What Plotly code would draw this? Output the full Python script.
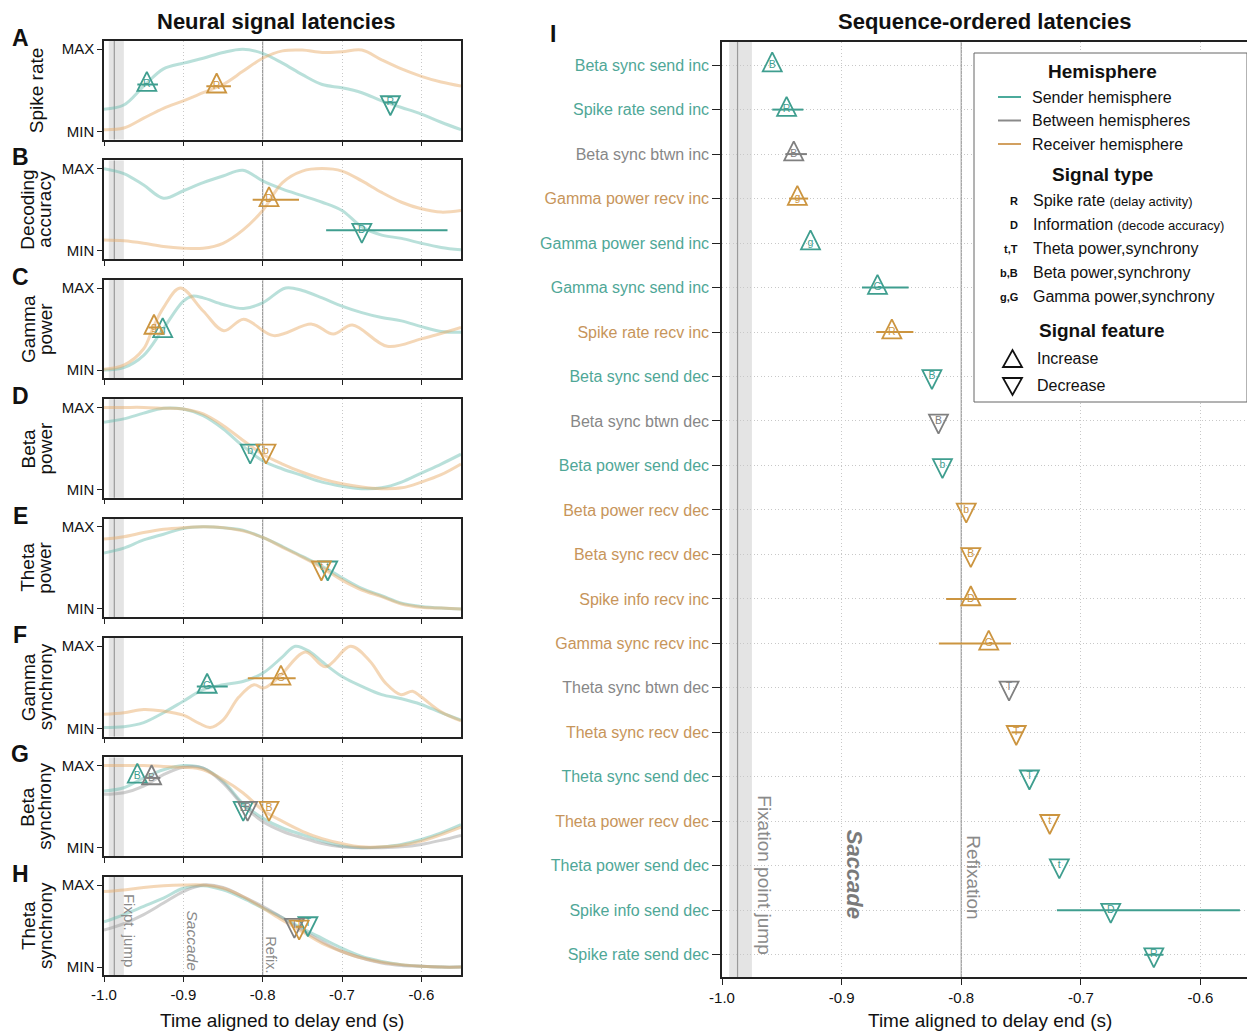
import plotly.graph_objects as go

# page area is 1255x1031; the html body adds an 8px margin, so the figure is offset by 8px
W, H = 1255, 1031
OFF = 8
FW, FH = W - OFF, H - OFF
FONT = "Liberation Sans, Arial, Helvetica, sans-serif"

# ---------------- data: left panels (normalised signals, MIN=0, MAX=1) ----------------
T = [-1.0, -0.975, -0.95, -0.925, -0.9, -0.875, -0.85, -0.825, -0.8, -0.775,
     -0.75, -0.725, -0.7, -0.675, -0.65, -0.625, -0.6, -0.575, -0.55]

A_send = [0.27, 0.32, 0.55, 0.76, 0.83, 0.89, 0.96, 1.0, 0.95, 0.83, 0.69, 0.57, 0.53, 0.47, 0.37, 0.29, 0.21, 0.11, 0.02]
A_recv = [0.02, 0.04, 0.16, 0.28, 0.37, 0.47, 0.57, 0.73, 0.89, 0.98, 0.99, 0.96, 0.97, 0.99, 0.87, 0.76, 0.67, 0.60, 0.55]

B_send = [1.0, 0.94, 0.80, 0.64, 0.73, 0.83, 0.91, 0.98, 0.85, 0.75, 0.67, 0.59, 0.49, 0.29, 0.19, 0.15, 0.09, 0.04, 0.01]
B_recv = [0.13, 0.12, 0.09, 0.05, 0.03, 0.03, 0.09, 0.25, 0.49, 0.83, 0.97, 1.0, 0.97, 0.85, 0.71, 0.59, 0.51, 0.47, 0.49]

C_send_x = [-1.0, -0.975, -0.95, -0.927, -0.9, -0.889, -0.875, -0.85, -0.824, -0.8, -0.771, -0.75,
            -0.725, -0.7, -0.675, -0.65, -0.625, -0.6, -0.575, -0.55]
C_send = [0.0, 0.03, 0.18, 0.48, 0.84, 0.90, 0.88, 0.80, 0.75, 0.82, 1.0, 0.97,
          0.88, 0.78, 0.70, 0.64, 0.60, 0.53, 0.47, 0.46]
C_recv_x = [-1.0, -0.975, -0.95, -0.938, -0.925, -0.904, -0.875, -0.849, -0.824, -0.786, -0.738,
            -0.711, -0.687, -0.643, -0.6, -0.55]
C_recv = [0.01, 0.06, 0.26, 0.52, 0.76, 1.0, 0.72, 0.48, 0.62, 0.42, 0.56, 0.44, 0.55, 0.29, 0.38, 0.52]

D_send = [0.82, 0.86, 0.93, 0.99, 0.98, 0.90, 0.74, 0.53, 0.35, 0.25, 0.17, 0.09, 0.04, 0.01, 0.02, 0.09, 0.20, 0.31, 0.43]
D_recv = [1.0, 1.0, 1.0, 0.99, 0.98, 0.92, 0.78, 0.60, 0.43, 0.31, 0.21, 0.13, 0.07, 0.03, 0.01, 0.02, 0.09, 0.18, 0.31]

E_send = [0.68, 0.74, 0.84, 0.91, 0.98, 1.0, 0.99, 0.96, 0.87, 0.76, 0.64, 0.52, 0.38, 0.25, 0.16, 0.07, 0.03, 0.01, 0.0]
E_recv = [0.85, 0.88, 0.93, 0.97, 0.99, 1.0, 0.99, 0.95, 0.87, 0.75, 0.63, 0.50, 0.35, 0.23, 0.15, 0.06, 0.02, 0.01, 0.0]

F_send_x = [-1.0, -0.975, -0.95, -0.925, -0.9, -0.875, -0.85, -0.825, -0.8, -0.775, -0.759, -0.74,
            -0.725, -0.7, -0.675, -0.65, -0.625, -0.6, -0.575, -0.55]
F_send = [0.01, 0.02, 0.07, 0.19, 0.33, 0.47, 0.53, 0.57, 0.67, 0.87, 1.0, 0.93,
          0.81, 0.63, 0.51, 0.41, 0.36, 0.29, 0.19, 0.10]
F_recv_x = [-1.0, -0.975, -0.95, -0.925, -0.9, -0.88, -0.866, -0.85, -0.83, -0.811, -0.799, -0.787,
            -0.775, -0.746, -0.721, -0.689, -0.665, -0.645, -0.626, -0.611, -0.6, -0.575, -0.55]
F_recv = [0.17, 0.19, 0.23, 0.21, 0.16, 0.06, 0.01, 0.10, 0.38, 0.53, 0.49, 0.56,
          0.67, 0.93, 0.75, 1.0, 0.82, 0.55, 0.41, 0.45, 0.38, 0.20, 0.09]

G_send = [0.69, 0.73, 0.85, 0.95, 1.0, 0.97, 0.81, 0.54, 0.36, 0.24, 0.16, 0.08, 0.02, 0.0, 0.01, 0.04, 0.10, 0.18, 0.28]
G_btwn = [0.65, 0.67, 0.75, 0.89, 0.98, 0.97, 0.79, 0.52, 0.32, 0.20, 0.12, 0.05, 0.01, 0.0, 0.0, 0.01, 0.04, 0.09, 0.15]
G_recv = [1.0, 1.0, 1.0, 0.99, 0.98, 0.95, 0.83, 0.67, 0.46, 0.32, 0.20, 0.11, 0.05, 0.01, 0.01, 0.03, 0.08, 0.16, 0.25]

H_send = [0.55, 0.64, 0.74, 0.84, 0.96, 0.99, 0.94, 0.84, 0.72, 0.60, 0.47, 0.35, 0.23, 0.13, 0.07, 0.03, 0.01, 0.0, 0.0]
H_btwn = [0.45, 0.53, 0.64, 0.78, 0.92, 1.0, 0.97, 0.86, 0.74, 0.60, 0.45, 0.31, 0.19, 0.11, 0.05, 0.02, 0.01, 0.0, 0.0]
H_recv = [0.92, 0.94, 0.97, 0.99, 1.0, 1.0, 0.96, 0.86, 0.72, 0.57, 0.43, 0.29, 0.19, 0.11, 0.06, 0.03, 0.01, 0.0, 0.0]

panel_letters = ["A", "B", "C", "D", "E", "F", "G", "H"]
panel_titles = [["Spike rate"], ["Decoding", "accuracy"], ["Gamma", "power"], ["Beta", "power"],
                ["Theta", "power"], ["Gamma", "synchrony"], ["Beta", "synchrony"], ["Theta", "synchrony"]]

# ---------------- data: sequence-ordered latencies ----------------
row_labels = ["Beta sync send inc", "Spike rate send inc", "Beta sync btwn inc", "Gamma power recv inc",
              "Gamma power send inc", "Gamma sync send inc", "Spike rate recv inc", "Beta sync send dec",
              "Beta sync btwn dec", "Beta power send dec", "Beta power recv dec", "Beta sync recv dec",
              "Spike info recv inc", "Gamma sync recv inc", "Theta sync btwn dec", "Theta sync recv dec",
              "Theta sync send dec", "Theta power recv dec", "Theta power send dec", "Spike info send dec",
              "Spike rate send dec"]
row_hemi = ["send", "send", "btwn", "recv", "send", "send", "recv", "send", "btwn", "send", "recv",
            "recv", "recv", "recv", "btwn", "recv", "send", "recv", "send", "send", "send"]
row_dir = ["inc", "inc", "inc", "inc", "inc", "inc", "inc", "dec", "dec", "dec", "dec",
           "dec", "inc", "inc", "dec", "dec", "dec", "dec", "dec", "dec", "dec"]
row_letter = ["B", "R", "B", "g", "g", "G", "R", "B", "B", "b", "b",
              "B", "D", "G", "T", "T", "T", "t", "t", "D", "R"]
row_lat = [-0.958, -0.946, -0.940, -0.937, -0.926, -0.870, -0.858, -0.8245, -0.819, -0.8157, -0.7958,
           -0.792, -0.792, -0.777, -0.760, -0.754, -0.743, -0.726, -0.718, -0.675, -0.639]
row_lo = [-0.958, -0.958, -0.947, -0.944, -0.926, -0.883, -0.871, -0.8245, -0.819, -0.8157, -0.7958,
          -0.792, -0.8126, -0.8187, -0.760, -0.758, -0.743, -0.726, -0.718, -0.720, -0.647]
row_hi = [-0.958, -0.932, -0.929, -0.928, -0.926, -0.844, -0.840, -0.8245, -0.819, -0.8157, -0.7958,
          -0.792, -0.7542, -0.7584, -0.760, -0.749, -0.743, -0.726, -0.718, -0.567, -0.631]

# which latency rows appear in each left panel, and the height at which they are drawn
panel_rows = [[1, 6, 20], [12, 19], [3, 4], [9, 10], [17, 18], [5, 13], [0, 2, 7, 8, 11], [14, 15, 16]]
panel_marker_y = [[0.57, 0.55, 0.35], [0.62, 0.25], [0.52, 0.48], [0.47, 0.47], [0.50, 0.50],
                  [0.51, 0.61], [0.87, 0.85, 0.48, 0.48, 0.48], [0.51, 0.49, 0.53]]

time_ticks = [-1.0, -0.9, -0.8, -0.7, -0.6]
time_ticktext = ["-1.0", "-0.9", "-0.8", "-0.7", "-0.6"]

# ---------------- style ----------------
MARK = {"send": "#3F9E8F", "btwn": "#808080", "recv": "#CC9540"}
CURVE = {"send": "rgba(100,186,174,0.45)", "btwn": "rgba(150,150,150,0.45)", "recv": "rgba(232,172,105,0.48)"}
LABEL = {"send": "#4FA797", "btwn": "#878787", "recv": "#C7955A"}
LEG = {"send": "#4BAA9B", "btwn": "#8A8A8A", "recv": "#D2A060"}
GRID = dict(showgrid=True, gridcolor="#c8c8c8", griddash="1px,2.5px", gridwidth=1)

curves = [
    [("send", T, A_send), ("recv", T, A_recv)],
    [("send", T, B_send), ("recv", T, B_recv)],
    [("send", C_send_x, C_send), ("recv", C_recv_x, C_recv)],
    [("send", T, D_send), ("recv", T, D_recv)],
    [("send", T, E_send), ("recv", T, E_recv)],
    [("send", F_send_x, F_send), ("recv", F_recv_x, F_recv)],
    [("send", T, G_send), ("btwn", T, G_btwn), ("recv", T, G_recv)],
    [("send", T, H_send), ("btwn", T, H_btwn), ("recv", T, H_recv)],
]

def px(x):
    return (x - OFF) / FW

def py(y):
    return 1 - (y - OFF) / FH

TOP0, STEP, PH = 41.0, 119.4, 98.5
LEFT_PPU = PH / 1.2           # pixels per normalised unit in left panels
RIGHT_TOP, RIGHT_BOT = 42.0, 977.0
RY = [20.5, -0.52]
RIGHT_PPU = (RIGHT_BOT - RIGHT_TOP) / (RY[0] - RY[1])
TRI = 19
CENT = TRI * 2.0 / 3.0

fig = go.Figure()
layout = {}
shapes = []
annotations = []


def note(text, x, y, size, xanchor="center", yanchor="middle", xref="paper", yref="paper",
         angle=0, color="#111"):
    annotations.append(dict(text=text, x=x, y=y, xref=xref, yref=yref, showarrow=False,
                            xanchor=xanchor, yanchor=yanchor, textangle=angle,
                            font=dict(size=size, color=color, family=FONT)))


def ax_names(i):
    n = "" if i == 1 else str(i)
    return "x" + n, "y" + n, "xaxis" + n, "yaxis" + n


def event_shapes(xr, yr):
    shapes.append(dict(type="rect", xref=xr, yref=yr + " domain", x0=-0.994, x1=-0.975, y0=0, y1=1,
                       fillcolor="#e4e4e4", line=dict(width=0), layer="below"))
    shapes.append(dict(type="line", xref=xr, yref=yr + " domain", x0=-0.987, x1=-0.987, y0=0, y1=1,
                       line=dict(color="#9a9a9a", width=1.2), layer="below"))
    shapes.append(dict(type="line", xref=xr, yref=yr + " domain", x0=-0.8, x1=-0.8, y0=0, y1=1,
                       line=dict(color="#8f8f8f", width=1.1), layer="below"))


def add_events(xr, yr, idxs, ys, ppu, reverse):
    for hemi in ["send", "btwn", "recv"]:
        for d in ["inc", "dec"]:
            sel = [k for k, r in enumerate(idxs) if row_hemi[r] == hemi and row_dir[r] == d]
            if not sel:
                continue
            rows = [idxs[k] for k in sel]
            lat = [row_lat[r] for r in rows]
            yc = [ys[k] for k in sel]
            up = 1 if d == "inc" else -1
            sgn = -1 if reverse else 1
            shift = CENT / ppu
            yap = [v + up * sgn * shift for v in yc]
            sym = "arrow-up-open" if d == "inc" else "arrow-down-open"
            fig.add_trace(go.Scatter(
                x=lat, y=yap, xaxis=xr, yaxis=yr, mode="markers", cliponaxis=False,
                marker=dict(symbol=sym, size=TRI, color=MARK[hemi], line=dict(width=1.8, color=MARK[hemi])),
                hoverinfo="skip", showlegend=False))
            fig.add_trace(go.Scatter(
                x=lat, y=yc, xaxis=xr, yaxis=yr, mode="markers+text", cliponaxis=False,
                text=[row_letter[r] for r in rows], textposition="middle center",
                textfont=dict(size=10.5, color=MARK[hemi], family=FONT),
                marker=dict(size=1, color="rgba(0,0,0,0)"),
                error_x=dict(type="data", symmetric=False,
                             array=[row_hi[r] - row_lat[r] for r in rows],
                             arrayminus=[row_lat[r] - row_lo[r] for r in rows],
                             color=MARK[hemi], thickness=2, width=0),
                hoverinfo="skip", showlegend=False))


# ---------------- left panels ----------------
for i in range(8):
    xr, yr, xk, yk = ax_names(i + 1)
    top = TOP0 + STEP * i
    bot = top + PH
    layout[xk] = dict(domain=[px(104), px(461)], range=[-1.0, -0.55], anchor=yr, automargin=False,
                      tickvals=time_ticks, ticktext=time_ticktext, showticklabels=(i == 7),
                      ticks="outside", ticklen=5, tickwidth=1.2, tickcolor="#222",
                      showline=True, linecolor="#222", linewidth=1.5, mirror=True,
                      zeroline=False, tickfont=dict(size=15, color="#111", family=FONT), **GRID)
    layout[yk] = dict(domain=[py(bot), py(top)], range=[-0.1, 1.1], anchor=xr, automargin=False,
                      tickvals=[0, 1], ticktext=["MIN", "MAX"], ticks="outside", ticklen=5,
                      tickwidth=1.2, tickcolor="#222", showline=True, linecolor="#222",
                      linewidth=1.5, mirror=True, showgrid=False, zeroline=False,
                      tickfont=dict(size=15, color="#111", family=FONT))
    for hemi, xs, ys in curves[i]:
        fig.add_trace(go.Scatter(x=xs, y=ys, xaxis=xr, yaxis=yr, mode="lines",
                                 line=dict(color=CURVE[hemi], width=3, shape="spline", smoothing=1.0),
                                 hoverinfo="skip", showlegend=False))
    add_events(xr, yr, panel_rows[i], panel_marker_y[i], LEFT_PPU, False)
    event_shapes(xr, yr)

    note("<b>" + panel_letters[i] + "</b>", px(20), py(top - 3), 23)
    cy = py(top + PH / 2)
    lines = panel_titles[i]
    xs_t = [36] if len(lines) == 1 else [28, 45]
    for ln, xt in zip(lines, xs_t):
        note(ln, px(xt), cy, 19, angle=-90)

# event labels in panel H
for txt, xv, yv, fs in [("Fixpt. jump", -0.967, 0.92, 15), ("<i>Saccade</i>", -0.889, 0.72, 15.5),
                        ("Refix.", -0.789, 0.40, 14.5)]:
    note(txt, xv, yv, fs, yanchor="top", xref="x8", yref="y8", angle=90, color="#8a8a8a")

# ---------------- right panel ----------------
xr, yr, xk, yk = ax_names(9)
layout[xk] = dict(domain=[px(722), 1.0], range=[-1.0, -0.5544], anchor=yr, automargin=False,
                  tickvals=time_ticks, ticktext=time_ticktext, ticks="outside", ticklen=6,
                  tickwidth=1.2, tickcolor="#222", showline=True, linecolor="#222", linewidth=1.5,
                  mirror=True, zeroline=False, tickfont=dict(size=15, color="#111", family=FONT), **GRID)
layout[yk] = dict(domain=[py(RIGHT_BOT), py(RIGHT_TOP)], range=RY, anchor=xr, automargin=False,
                  tickvals=list(range(len(row_labels))),
                  ticktext=['<span style="color:%s">%s</span>' % (LABEL[h], l) for l, h in zip(row_labels, row_hemi)],
                  ticks="outside", ticklen=8, tickwidth=1.2, tickcolor="#222", showline=True,
                  linecolor="#222", linewidth=1.5, mirror=True, zeroline=False,
                  tickfont=dict(size=16, color="#555", family=FONT), **GRID)
add_events(xr, yr, list(range(len(row_labels))), list(range(len(row_labels))), RIGHT_PPU, True)
event_shapes(xr, yr)

for txt, xv, yv, fs, col in [("Fixation point jump", -0.964, 16.36, 19, "#8a8a8a"),
                             ("<b><i>Saccade</i></b>", -0.889, 17.15, 22, "#7a7a7a"),
                             ("Refixation", -0.790, 17.26, 19, "#8a8a8a")]:
    note(txt, xv, yv, fs, yanchor="top", xref=xr, yref=yr, angle=90, color=col)

# ---------------- titles ----------------
note("<b>Neural signal latencies</b>", px(276), py(22), 22)
note("<b>Sequence-ordered latencies</b>", px(984), py(22), 22)
note("<b>I</b>", px(553), py(34), 23)
note("Time aligned to delay end (s)", px(282), py(1020), 19)
note("Time aligned to delay end (s)", px(990), py(1020), 19)

# ---------------- legend (drawn manually) ----------------
shapes.append(dict(type="rect", xref="paper", yref="paper", x0=px(974), x1=px(1247), y0=py(402), y1=py(53),
                   fillcolor="white", line=dict(color="#666", width=1), layer="above"))
note("<b>Hemisphere</b>", px(1102), py(72), 19)
for k, (hemi, txt) in enumerate([("send", "Sender hemisphere"), ("btwn", "Between hemispheres"),
                                 ("recv", "Receiver hemisphere")]):
    yy = 97 + 23.5 * k
    shapes.append(dict(type="line", xref="paper", yref="paper", x0=px(998), x1=px(1021), y0=py(yy), y1=py(yy),
                       line=dict(color=LEG[hemi], width=2), layer="above"))
    note(txt, px(1030), py(yy), 16, xanchor="left")
note("<b>Signal type</b>", px(1102), py(175), 19)
sig_keys = ["R", "D", "t,T", "b,B", "g,G"]
sig_text = ["Spike rate <span style=\"font-size:13px\">(delay activity)</span>",
            "Information <span style=\"font-size:13px\">(decode accuracy)</span>",
            "Theta power,synchrony", "Beta power,synchrony", "Gamma power,synchrony"]
for k, (kk, tt) in enumerate(zip(sig_keys, sig_text)):
    yy = 200.5 + 24.1 * k
    note("<b>" + kk + "</b>", px(1020), py(yy), 11, xanchor="right")
    note(tt, px(1031), py(yy), 16, xanchor="left")
note("<b>Signal feature</b>", px(1102), py(331), 19)
up_path = "M %f %f L %f %f L %f %f Z" % (px(1003), py(367), px(1022), py(367), px(1012.5), py(350))
dn_path = "M %f %f L %f %f L %f %f Z" % (px(1003), py(378), px(1022), py(378), px(1012.5), py(395))
for pth in [up_path, dn_path]:
    shapes.append(dict(type="path", xref="paper", yref="paper", path=pth,
                       line=dict(color="#111", width=1.8), fillcolor="rgba(0,0,0,0)", layer="above"))
note("Increase", px(1035), py(359), 16, xanchor="left")
note("Decrease", px(1035), py(385), 16, xanchor="left")

fig.update_layout(width=FW, height=FH, margin=dict(l=0, r=0, t=0, b=0, autoexpand=False),
                  paper_bgcolor="white", plot_bgcolor="white", showlegend=False,
                  font=dict(family=FONT, color="#111"), shapes=shapes, annotations=annotations,
                  **layout)

fig.write_html("out.html")
